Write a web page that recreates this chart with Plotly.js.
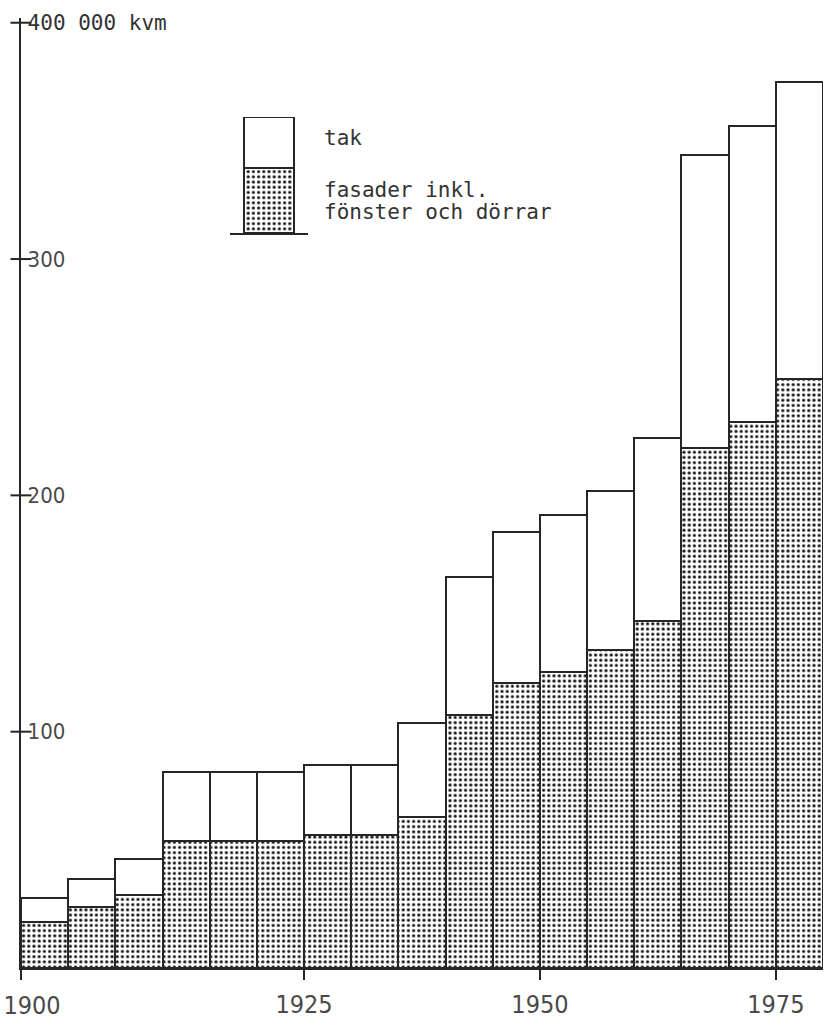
<!DOCTYPE html>
<html>
<head>
<meta charset="utf-8">
<script src="https://cdn.plot.ly/plotly-3.0.1.min.js"></script>
<style>html,body{margin:0;padding:0;background:#fff;}</style>
</head>
<body>
<div id="chart" style="width:827px;height:1021px;"></div>
<script>
// Bar index (17 consecutive periods, 1900 -> c. 1980)
const periodIndex = [0,1,2,3,4,5,6,7,8,9,10,11,12,13,14,15,16];
// fasader inkl. fönster och dörrar (thousand kvm)
const fasader = [19.3, 26.0, 30.9, 53.9, 53.9, 53.9, 56.3, 56.3, 64.0, 107.1, 120.8, 125.4, 134.6, 146.9, 220.0, 231.0, 249.3];
// tak (thousand kvm), stacked on top
const tak = [10.2, 11.5, 15.1, 29.2, 29.2, 29.2, 29.7, 29.7, 39.6, 58.5, 63.9, 66.3, 67.4, 77.3, 124.1, 125.4, 125.7];
// x tick marks and labels
const xTickPos = [-0.5, 5.5, 10.5, 15.5];
const xTickText = ['', '1925', '1950', '1975'];
const xFirstTickPos = [-0.5];
const xFirstTickText = ['1900'];
// y ticks
const yTickVals = [100, 200, 300, 400];
const yTickText = ['100', '200', '300', '<span style="font-family:\'DejaVu Sans Mono\';font-size:21px;fill:#333">400 000 kvm</span>'];
// legend key
const legendLabels = ['tak', 'fasader inkl.', 'fönster och dörrar'];

const ink = '#262626';
const dotPattern = {shape: '.', size: 5.2, solidity: 0.3, fgcolor: '#1a1a1a', bgcolor: '#ffffff', fillmode: 'replace'};

const traces = [
  {type: 'bar', x: periodIndex, y: fasader, width: 1, name: 'fasader',
   marker: {color: '#ffffff', pattern: dotPattern, line: {color: ink, width: 2}},
   hoverinfo: 'skip', showlegend: false},
  {type: 'bar', x: periodIndex, y: tak, width: 1, name: 'tak',
   marker: {color: '#ffffff', line: {color: ink, width: 2}},
   hoverinfo: 'skip', showlegend: false},
  // y tick marks crossing the axis line (at the axis, x = range start)
  {type: 'scatter', mode: 'markers', x: yTickVals.map(() => xTickPos[0]), y: yTickVals,
   marker: {symbol: 'line-ew-open', size: 15, color: ink, line: {color: ink, width: 2}},
   cliponaxis: false, hoverinfo: 'skip', showlegend: false},
  // carrier for the overlay axis with the first year label (draws nothing)
  {type: 'scatter', mode: 'none', x: periodIndex, y: fasader, xaxis: 'x3',
   hoverinfo: 'skip', showlegend: false},
  // legend key (small stacked bar)
  {type: 'bar', x: [0], y: [1], width: 1, xaxis: 'x2', yaxis: 'y2',
   marker: {color: '#ffffff', pattern: dotPattern, line: {color: ink, width: 2}},
   hoverinfo: 'skip', showlegend: false},
  {type: 'bar', x: [0], y: [0.78], width: 1, xaxis: 'x2', yaxis: 'y2',
   marker: {color: '#ffffff', line: {color: ink, width: 2}},
   hoverinfo: 'skip', showlegend: false}
];

const numFont = {family: "'Liberation Sans Narrow', 'DejaVu Sans Condensed', sans-serif", color: '#4a4a4a'};
const monoFont = {family: "'DejaVu Sans Mono', monospace", size: 21, color: '#333'};

const layout = {
  width: 827, height: 1021,
  margin: {l: 21, r: 4, t: 18, b: 53, pad: 0},
  paper_bgcolor: '#ffffff', plot_bgcolor: '#ffffff',
  barmode: 'stack', bargap: 0,
  showlegend: false,
  xaxis: {
    range: [-0.5, 16.5], showgrid: false, zeroline: false,
    showline: true, linecolor: ink, linewidth: 2,
    tickmode: 'array', tickvals: xTickPos, ticktext: xTickText,
    ticks: 'outside', ticklen: 10, tickwidth: 2, tickcolor: ink,
    ticklabelstandoff: 3,
    tickfont: Object.assign({size: 25}, numFont), fixedrange: true
  },
  xaxis3: {
    overlaying: 'x', anchor: 'y', side: 'bottom', range: [-0.5, 16.5],
    showgrid: false, zeroline: false, showline: false,
    tickmode: 'array', tickvals: xFirstTickPos, ticktext: xFirstTickText,
    ticks: '', ticklabelstandoff: 20, ticklabelshift: 11, ticklabeloverflow: 'allow',
    tickfont: Object.assign({size: 25}, numFont), fixedrange: true
  },
  yaxis: {
    range: [0, 402], showgrid: false, zeroline: false,
    showline: true, linecolor: ink, linewidth: 2,
    tickmode: 'array', tickvals: yTickVals, ticktext: yTickText,
    ticks: '', 
    ticklabelposition: 'inside', ticklabelstandoff: 8, ticklabeloverflow: 'allow',
    tickfont: Object.assign({size: 22}, numFont), fixedrange: true
  },
  xaxis2: {
    domain: [0.2606, 0.3579], anchor: 'y2', range: [-0.78, 0.78],
    showgrid: false, zeroline: false, showline: true, linecolor: ink, linewidth: 2,
    showticklabels: false, ticks: '', fixedrange: true
  },
  yaxis2: {
    domain: [0.7737, 0.8958], anchor: 'x2', range: [0, 1.78],
    showgrid: false, zeroline: false, showline: false,
    showticklabels: false, ticks: '', fixedrange: true
  },
  annotations: [
    {xref: 'paper', yref: 'paper', x: 0.3753, y: 0.8737, xanchor: 'left', yanchor: 'middle',
     text: legendLabels[0], showarrow: false, font: monoFont},
    {xref: 'paper', yref: 'paper', x: 0.3753, y: 0.8189, xanchor: 'left', yanchor: 'middle',
     text: legendLabels[1], showarrow: false, font: monoFont},
    {xref: 'paper', yref: 'paper', x: 0.3753, y: 0.7958, xanchor: 'left', yanchor: 'middle',
     text: legendLabels[2], showarrow: false, font: monoFont}
  ]
};

Plotly.newPlot('chart', traces, layout, {staticPlot: true, displayModeBar: false});
</script>
</body>
</html>
